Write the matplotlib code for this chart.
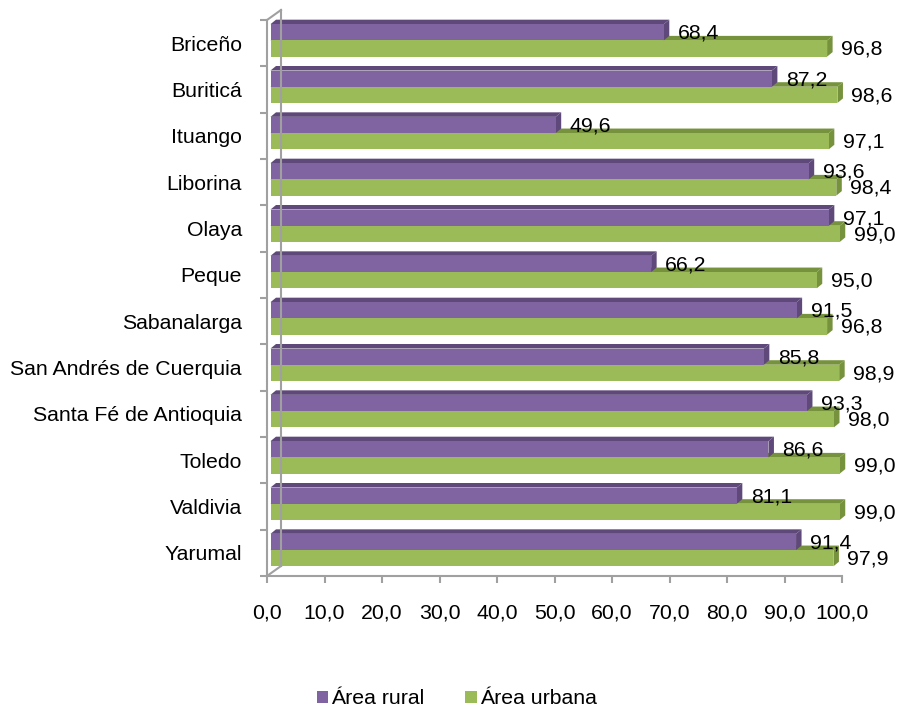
import matplotlib
matplotlib.use("Agg")
import matplotlib.pyplot as plt
from matplotlib.patches import Rectangle, Polygon, Patch
import numpy as np

plt.rcParams['font.family'] = ['Liberation Sans', 'DejaVu Sans']

categories = ["Briceño", "Buriticá", "Ituango", "Liborina", "Olaya", "Peque",
              "Sabanalarga", "San Andrés de Cuerquia", "Santa Fé de Antioquia",
              "Toledo", "Valdivia", "Yarumal"]
rural = [68.4, 87.2, 49.6, 93.6, 97.1, 66.2, 91.5, 85.8, 93.3, 86.6, 81.1, 91.4]
urbana = [96.8, 98.6, 97.1, 98.4, 99.0, 95.0, 96.8, 98.9, 98.0, 99.0, 99.0, 97.9]
series_names = ["Área rural", "Área urbana"]
xticks = np.arange(0, 101, 10)

c_rural = "#8064A2"; c_rural_d = "#5F497A"
c_urb = "#9BBB59"; c_urb_d = "#76923C"
gray = "#A0A0A0"
FS = 15.3

W_px, H_px = 899, 710
fig = plt.figure(figsize=(W_px / 100, H_px / 100), dpi=100)
ax_l, ax_r, ax_t, ax_b = 267, 842, 20, 576
ax = fig.add_axes([ax_l / W_px, 1 - ax_b / H_px, (ax_r - ax_l) / W_px, (ax_b - ax_t) / H_px])
n = len(categories)
ax.set_xlim(0, 100)
ax.set_ylim(n - 0.5, -0.5)

pxx = (ax_r - ax_l) / 100.0
pxy = (ax_b - ax_t) / n
dx = 5.5 / pxx   # bar depth (x)
dy = 4.5 / pxy   # bar depth (y)
x0 = 3.5 / pxx   # bars sit slightly behind the front axis plane
h = 0.35
gap_top = 0.09

def bar3d(y_top, v, front, dark):
    xe = x0 + v
    ax.add_patch(Polygon([(x0, y_top), (xe, y_top), (xe + dx, y_top - dy), (x0 + dx, y_top - dy)],
                         closed=True, facecolor=dark, edgecolor='none', clip_on=False))
    ax.add_patch(Polygon([(xe, y_top), (xe + dx, y_top - dy), (xe + dx, y_top + h - dy), (xe, y_top + h)],
                         closed=True, facecolor=dark, edgecolor='none', clip_on=False))
    ax.add_patch(Rectangle((x0, y_top), v, h, facecolor=front, edgecolor='none', clip_on=False))

# back wall lines
wdx = 14 / pxx
wdy = 10 / pxy
ax.plot([0, wdx], [-0.5, -0.5 - wdy], color=gray, lw=1.5, clip_on=False)
ax.plot([wdx, wdx], [-0.5 - wdy, n - 0.5 - wdy], color=gray, lw=1.5, clip_on=False)
ax.plot([0, wdx], [n - 0.5, n - 0.5 - wdy], color=gray, lw=1.5, clip_on=False)

for i in range(n):
    yr = i - 0.5 + gap_top
    yu = yr + h
    bar3d(yu, urbana[i], c_urb, c_urb_d)
    bar3d(yr, rural[i], c_rural, c_rural_d)
    ax.annotate(f"{rural[i]:.1f}".replace('.', ','), xy=(x0 + rural[i], yr + h / 2),
                xytext=(14, -1), textcoords='offset pixels', va='center', ha='left', fontsize=FS)
    ax.annotate(f"{urbana[i]:.1f}".replace('.', ','), xy=(x0 + urbana[i], yu + h / 2),
                xytext=(14, -1), textcoords='offset pixels', va='center', ha='left', fontsize=FS)

for s in ['top', 'right']:
    ax.spines[s].set_visible(False)
for s in ['left', 'bottom']:
    ax.spines[s].set_color(gray)
    ax.spines[s].set_linewidth(1.5)

ax.set_xticks(xticks)
ax.set_xticklabels([f"{t:.1f}".replace('.', ',') for t in xticks], fontsize=FS)
ax.tick_params(axis='x', length=5, width=1.5, color=gray, pad=15)
ax.set_yticks(range(n))
ax.set_yticklabels(categories, fontsize=FS)
ax.set_yticks(np.arange(-0.5, n, 1), minor=True)
ax.tick_params(axis='y', which='major', length=0, pad=18)
ax.tick_params(axis='y', which='minor', length=5, width=1.5, color=gray)

handles = [Patch(facecolor=c_rural, edgecolor='none'), Patch(facecolor=c_urb, edgecolor='none')]
fig.legend(handles, series_names, ncol=2, loc='center', bbox_to_anchor=(0.508, 1 - 699 / H_px),
           frameon=False, fontsize=FS, handlelength=0.55, handleheight=0.55,
           handletextpad=0.15, columnspacing=1.9)

fig.savefig("out.png", dpi=100)
